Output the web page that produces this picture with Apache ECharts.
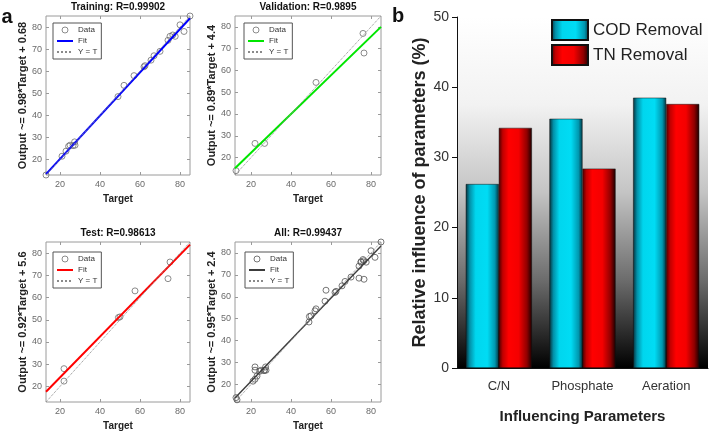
<!DOCTYPE html>
<html>
<head>
<meta charset="utf-8">
<title>Regression fits and parameter influence</title>
<script src="https://cdn.jsdelivr.net/npm/echarts@6.0.0/dist/echarts.min.js"></script>
<style>
  html, body { margin: 0; padding: 0; background: #fff; }
  #chart { width: 711px; height: 435px; }
</style>
</head>
<body>
<div id="chart"></div>
<script>
// panel a: regression data (Target, Output)
const trainPts = [[13, 13], [21, 21.5], [23, 23.8], [24.3, 26], [25, 26.5], [26.5, 26.3], [27.3, 28], [27.5, 26.5],
  [49, 48.5], [52, 53.6], [57, 58], [62, 62], [62.5, 62.5], [65.5, 65], [67, 67], [70, 69], [74, 74],
  [75, 75.8], [76.4, 76.4], [77.6, 75.8], [80, 81], [82, 78], [85, 85]]
const valPts = [[12.5, 14], [22, 26.5], [26.8, 26.5], [52.5, 54.5], [76, 77], [76.5, 68]]
const testPts = [[22, 28], [22, 22.4], [49.2, 51], [50, 51.3], [57.5, 63], [74, 68.5], [75, 76]]
const allPts = trainPts.concat(valPts, testPts)

// fit line end points
const trainFit = [[13, 13.4], [85, 84]]
const valFit = [[12, 15.1], [85, 80]]
const testFit = [[13, 17.6], [85, 83.8]]
const allFit = [[12, 13.8], [85, 83.2]]

// Y = T reference lines
const trainIdent = [[13, 13], [85, 85]]
const valIdent = [[12, 12], [85, 85]]
const testIdent = [[13, 13], [85, 85]]
const allIdent = [[12, 12], [85, 85]]

const trainRange = [13, 85]
const valRange = [12, 85]
const testRange = [13, 85]
const allRange = [12, 85]

const targetTicks = [20, 40, 60, 80]
const outputTicks = [20, 30, 40, 50, 60, 70, 80]

// panel b: relative influence (%)
const categories = ['C/N', 'Phosphate', 'Aeration']
const codRemoval = [26.2, 35.5, 38.5]
const tnRemoval = [34.2, 28.4, 37.6]
const influenceTicks = [0, 10, 20, 30, 40, 50]

const FONT = 'Liberation Sans, Arial, sans-serif'

const panels = [
  { key: 'train', title: 'Training: R=0.99902', yName: 'Output ~= 0.98*Target + 0.68', color: '#0000ff', dot: '#6f6f6f',
    pts: trainPts, fit: trainFit, ident: trainIdent, range: trainRange, box: [46, 16, 144, 159], leg: [53, 23] },
  { key: 'val', title: 'Validation: R=0.9895', yName: 'Output ~= 0.89*Target + 4.4', color: '#00e600', dot: '#6f6f6f',
    pts: valPts, fit: valFit, ident: valIdent, range: valRange, box: [235, 16, 146, 159], leg: [244, 23] },
  { key: 'test', title: 'Test: R=0.98613', yName: 'Output ~= 0.92*Target + 5.6', color: '#ff0000', dot: '#6f6f6f',
    pts: testPts, fit: testFit, ident: testIdent, range: testRange, box: [46, 242, 144, 160], leg: [53, 252] },
  { key: 'all', title: 'All: R=0.99437', yName: 'Output ~= 0.95*Target + 2.4', color: '#3c3c3c', dot: '#555555',
    pts: allPts, fit: allFit, ident: allIdent, range: allRange, box: [235, 242, 146, 160], leg: [245, 252] }
]

const grid = []
const xAxis = []
const yAxis = []
const series = []
const legend = []
const graphic = []

panels.forEach((p, i) => {
  grid.push({
    left: p.box[0], top: p.box[1], width: p.box[2], height: p.box[3],
    show: true, backgroundColor: '#fff', borderColor: '#9a9a9a', borderWidth: 1
  })
  const tick = (vals) => ({ inside: true, length: 3, customValues: vals, lineStyle: { color: '#9a9a9a' } })
  xAxis.push({
    type: 'value', gridIndex: i, position: 'bottom', min: p.range[0], max: p.range[1],
    name: 'Target', nameLocation: 'middle', nameGap: 19,
    nameTextStyle: { fontFamily: FONT, fontWeight: 'bold', fontSize: 10, color: '#222' },
    axisLine: { show: false }, axisTick: tick(targetTicks), splitLine: { show: false },
    axisLabel: { customValues: targetTicks, fontFamily: FONT, fontSize: 9, color: '#6a6a6a', margin: 5 }
  })
  xAxis.push({
    type: 'value', gridIndex: i, position: 'top', min: p.range[0], max: p.range[1],
    axisLine: { show: false }, axisTick: tick(targetTicks), axisLabel: { show: false }, splitLine: { show: false }
  })
  yAxis.push({
    type: 'value', gridIndex: i, position: 'left', min: p.range[0], max: p.range[1],
    name: p.yName, nameLocation: 'middle', nameGap: 14,
    nameTextStyle: { fontFamily: FONT, fontWeight: 'bold', fontSize: 11, color: '#222' },
    axisLine: { show: false }, axisTick: tick(outputTicks), splitLine: { show: false },
    axisLabel: { customValues: outputTicks, fontFamily: FONT, fontSize: 9, color: '#6a6a6a', margin: 4 }
  })
  yAxis.push({
    type: 'value', gridIndex: i, position: 'right', min: p.range[0], max: p.range[1],
    axisLine: { show: false }, axisTick: tick(outputTicks), axisLabel: { show: false }, splitLine: { show: false }
  })

  const ax = { xAxisIndex: 2 * i, yAxisIndex: 2 * i }
  series.push({
    name: p.key + '|Data', type: 'scatter', ...ax, data: p.pts, symbol: 'circle', symbolSize: 6,
    itemStyle: { color: 'rgba(0,0,0,0)', borderColor: p.dot, borderWidth: 1 }, silent: true, z: 2
  })
  series.push({
    name: p.key + '|Fit', type: 'line', ...ax, data: p.fit, symbol: 'none', silent: true, z: 3,
    lineStyle: { color: p.color, width: i === 3 ? 1.4 : 2 }, itemStyle: { color: p.color }
  })
  series.push({
    name: p.key + '|Y = T', type: 'line', ...ax, data: p.ident, symbol: 'none', silent: true, z: 4,
    lineStyle: { color: '#8a8a8a', width: 1, type: 'dotted' }, itemStyle: { color: '#8a8a8a' }
  })
  legend.push({
    left: p.leg[0], top: p.leg[1], orient: 'vertical', selectedMode: false,
    data: [
      { name: p.key + '|Data', itemStyle: { borderWidth: 1 } },
      { name: p.key + '|Fit', itemStyle: { opacity: 0 } },
      { name: p.key + '|Y = T', itemStyle: { opacity: 0 } }
    ],
    formatter: (n) => n.split('|')[1],
    itemWidth: 16, itemHeight: 6, itemGap: 3, padding: [3, 4, 3, 3],
    borderColor: '#555', borderWidth: 1, backgroundColor: '#fff',
    textStyle: { fontFamily: FONT, fontSize: 8, color: '#333' }
  })
  graphic.push({
    type: 'text', x: p.box[0] + p.box[2] / 2, y: p.box[1] - 9,
    style: { text: p.title, font: 'bold 10px ' + FONT, fill: '#111', align: 'center', verticalAlign: 'middle' }
  })
})

// panel b
grid.push({
  left: 457, top: 17, right: 3, bottom: 67, show: true, borderWidth: 0,
  backgroundColor: new echarts.graphic.LinearGradient(0, 0, 0, 1, [
    { offset: 0, color: '#ffffff' },
    { offset: 0.25, color: '#f2f2f2' },
    { offset: 0.5, color: '#c4c4c4' },
    { offset: 0.75, color: '#6c6c6c' },
    { offset: 1, color: '#000000' }
  ])
})
xAxis.push({
  type: 'category', gridIndex: 4, data: categories,
  name: 'Influencing Parameters', nameLocation: 'middle', nameGap: 41,
  nameTextStyle: { fontFamily: FONT, fontWeight: 'bold', fontSize: 15, color: '#222' },
  axisLine: { lineStyle: { color: '#111' } },
  axisTick: { alignWithLabel: true, length: 5, lineStyle: { color: '#111' } },
  axisLabel: { fontFamily: FONT, fontSize: 13, color: '#333', margin: 12 }
})
yAxis.push({
  type: 'value', gridIndex: 4, min: influenceTicks[0], max: influenceTicks[influenceTicks.length - 1], interval: 10,
  name: 'Relative influence of parameters (%)', nameLocation: 'middle', nameGap: 27,
  nameTextStyle: { fontFamily: FONT, fontWeight: 'bold', fontSize: 18, color: '#222' },
  axisLine: { show: true, lineStyle: { color: '#111' } },
  axisTick: { show: true, length: 5, lineStyle: { color: '#111' } },
  axisLabel: { fontFamily: FONT, fontSize: 14, color: '#333', margin: 8 },
  splitLine: { show: false }
})

const cyan = new echarts.graphic.LinearGradient(0, 0, 1, 0, [
  { offset: 0, color: '#06303a' },
  { offset: 0.12, color: '#0290a8' },
  { offset: 0.3, color: '#00d6ee' },
  { offset: 0.65, color: '#00dcf4' },
  { offset: 0.88, color: '#0098b0' },
  { offset: 1, color: '#033440' }
])
const red = new echarts.graphic.LinearGradient(0, 0, 1, 0, [
  { offset: 0, color: '#4a0000' },
  { offset: 0.12, color: '#c00000' },
  { offset: 0.3, color: '#ff0000' },
  { offset: 0.6, color: '#f40000' },
  { offset: 0.85, color: '#900000' },
  { offset: 1, color: '#1c0000' }
])
series.push({
  name: 'COD Removal', type: 'bar', xAxisIndex: 8, yAxisIndex: 8, data: codRemoval,
  barGap: '0%', barCategoryGap: '21%', silent: true,
  itemStyle: { color: cyan, borderColor: '#111', borderWidth: 0.5 }
})
series.push({
  name: 'TN Removal', type: 'bar', xAxisIndex: 8, yAxisIndex: 8, data: tnRemoval,
  barGap: '0%', barCategoryGap: '21%', silent: true,
  itemStyle: { color: red, borderColor: '#111', borderWidth: 0.5 }
})
legend.push({
  left: 551, top: 19, orient: 'vertical', selectedMode: false, icon: 'rect',
  data: ['COD Removal', 'TN Removal'],
  itemWidth: 36, itemHeight: 20, itemGap: 3, padding: 0,
  textStyle: { fontFamily: FONT, fontSize: 17, color: '#222' }
})

graphic.push({ type: 'text', x: 7, y: 17, style: { text: 'a', font: 'bold 20px ' + FONT, fill: '#111', align: 'center', verticalAlign: 'middle' } })
graphic.push({ type: 'text', x: 398, y: 16, style: { text: 'b', font: 'bold 20px ' + FONT, fill: '#111', align: 'center', verticalAlign: 'middle' } })

const chart = echarts.init(document.getElementById('chart'))
chart.setOption({
  animation: false,
  backgroundColor: '#fff',
  grid, xAxis, yAxis, series, legend, graphic
})
</script>
</body>
</html>
